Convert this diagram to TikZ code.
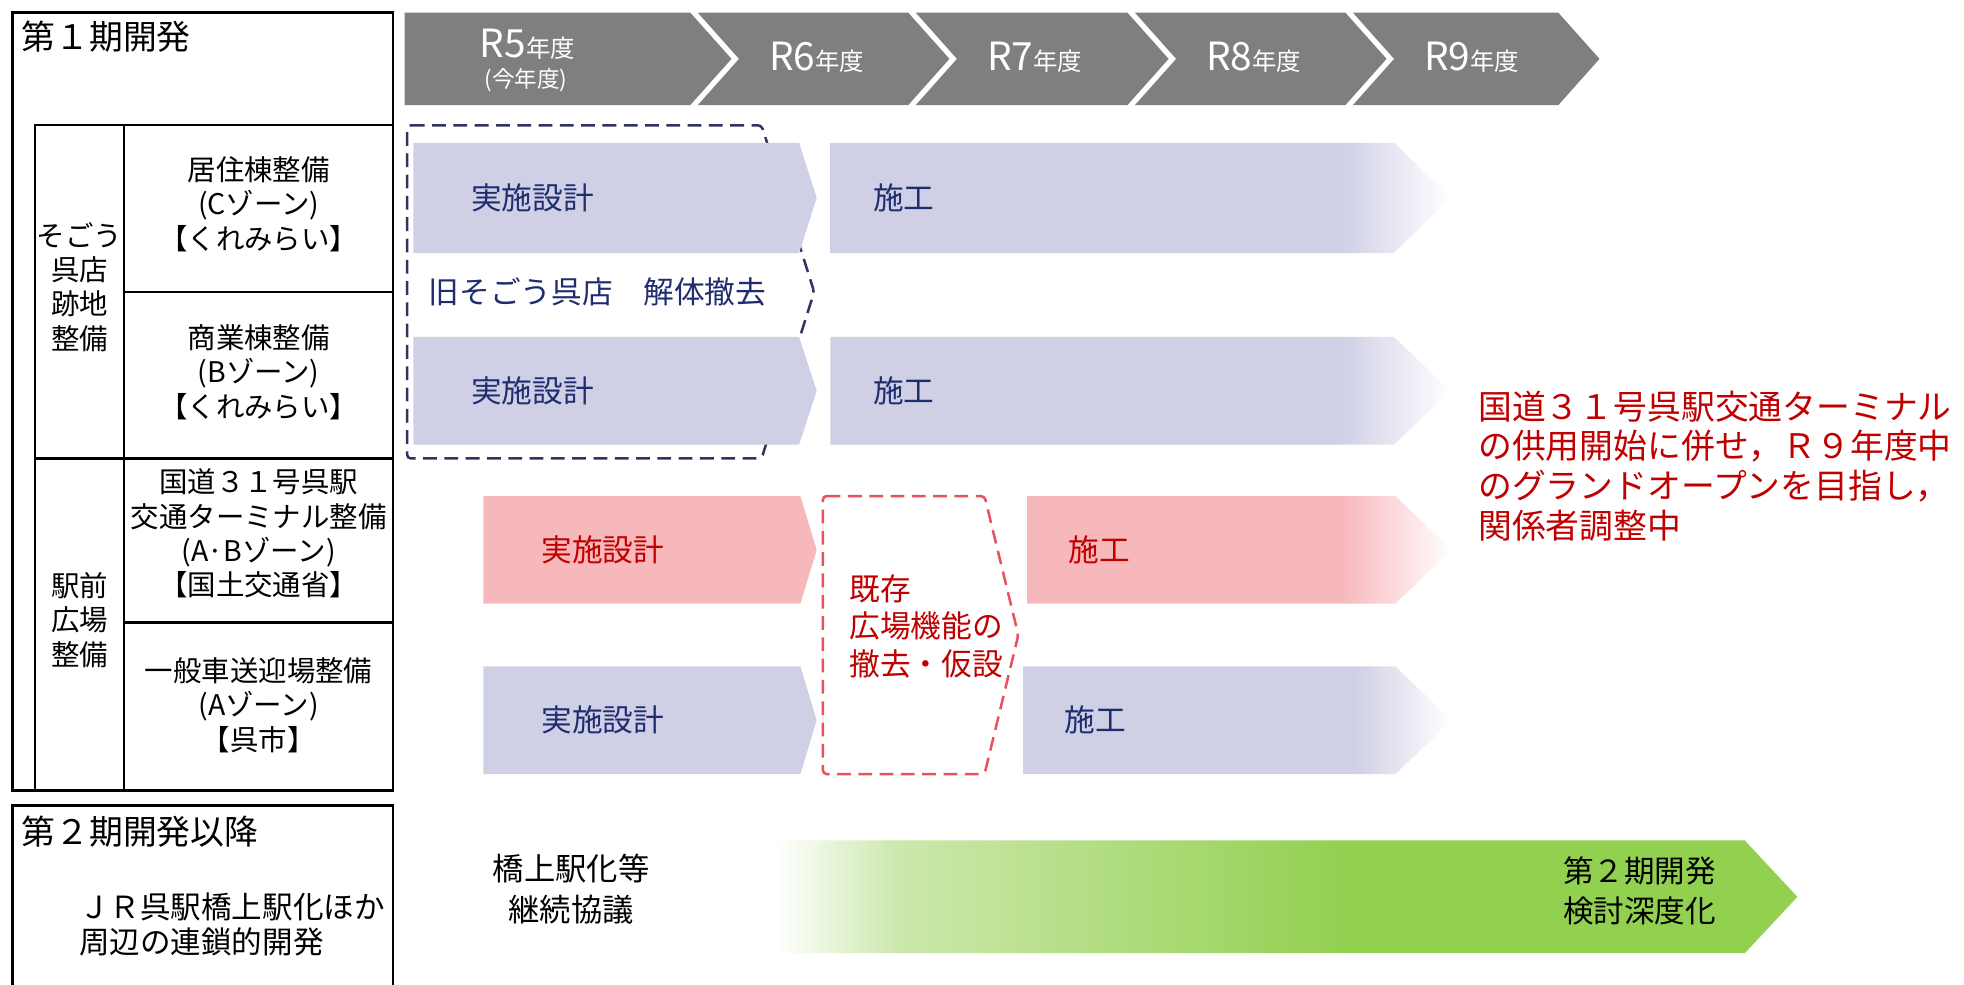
\documentclass[tikz,border=0pt]{standalone}
\usepackage{fontspec}
\setmainfont{Noto Sans CJK JP}
\definecolor{hdr}{RGB}{127,127,127}
\definecolor{lav}{RGB}{207,207,230}
\definecolor{pinkb}{RGB}{247,184,188}
\definecolor{navyt}{RGB}{31,45,110}
\definecolor{navydash}{RGB}{47,52,96}
\definecolor{redt}{RGB}{192,0,0}
\definecolor{reddash}{RGB}{232,80,92}
\definecolor{grn}{RGB}{146,208,80}
\definecolor{grnl}{RGB}{204,232,172}
\pgfdeclarehorizontalshading{greenfade}{100bp}{color(0bp)=(white); color(25bp)=(white); color(31bp)=(grnl); color(53bp)=(grn); color(100bp)=(grn)}
\pgfdeclarehorizontalshading{lavfadeA}{100bp}{color(0bp)=(lav); color(66bp)=(lav); color(75bp)=(white); color(100bp)=(white)}
\pgfdeclarehorizontalshading{lavfadeB}{100bp}{color(0bp)=(lav); color(63.5bp)=(lav); color(75bp)=(white); color(100bp)=(white)}
\pgfdeclarehorizontalshading{pinkfade}{100bp}{color(0bp)=(pinkb); color(62bp)=(pinkb); color(75bp)=(white); color(100bp)=(white)}
\newcommand{\tfs}[2]{\fontsize{#1}{#2}\selectfont}
\tikzset{
  boxline/.style={draw=black, line width=1.8pt},
  tbl/.style={font=\tfs{22.7}{27.5}, align=center, text=black, inner sep=0pt},
  hdrtxt/.style={font=\tfs{31}{33}, text=white, inner sep=0pt},
  bartxt/.style={font=\tfs{24.5}{30}, inner sep=0pt, anchor=west},
  navytxt/.style={bartxt, text=navyt},
  redtxt/.style={bartxt, text=redt},
  dashbox/.style={dashed, line width=2pt, rounded corners=3pt, dash pattern=on 11pt off 6pt},
}
\begin{document}
\begin{tikzpicture}[x=1pt,y=-1pt]
\useasboundingbox (0,0) rectangle (1568,785.6);
% ---------- left table ----------
\draw[boxline] (10,10) rectangle (314,631);
\draw[boxline] (28,100) rectangle (314,631);
\draw[boxline] (99,100) -- (99,631);
\draw[boxline] (99,233) -- (314,233);
\draw[boxline] (28,366) -- (314,366);
\draw[boxline] (99,497) -- (314,497);
\draw[boxline] (10,800) -- (10,643) -- (314,643) -- (314,800);
\node[anchor=west, font=\tfs{27}{32}, inner sep=0pt] (p1) at (17,29) {第１期開発};
\node[anchor=west, font=\tfs{27}{32}, inner sep=0pt] (p2) at (17,664) {第２期開発以降};
\node[anchor=west, font=\tfs{24.4}{28}, align=left, inner sep=0pt] (p2d) at (63,738) {ＪＲ呉駅橋上駅化ほか\\周辺の連鎖的開発};
\node[tbl] (g1) at (63.5,229) {そごう\\呉店\\跡地\\整備};
\node[tbl] (g2) at (63.5,495) {駅前\\広場\\整備};
\node[tbl] (r1) at (206.5,163) {居住棟整備\\(Cゾーン)\\【くれみらい】};
\node[tbl] (r2) at (206.5,297) {商業棟整備\\(Bゾーン)\\【くれみらい】};
\node[tbl] (r3) at (206.5,426) {国道３１号呉駅\\交通ターミナル整備\\(A·Bゾーン)\\【国土交通省】};
\node[tbl] (r4) at (206.5,563) {一般車送迎場整備\\(Aゾーン)\\【呉市】};
% ---------- header ----------
\fill[hdr] (323,10) -- (551,10) -- (584,47) -- (551,84) -- (323,84) -- cycle;
\fill[hdr] (557,10) -- (725,10) -- (758,47) -- (725,84) -- (557,84) -- (590,47) -- cycle;
\fill[hdr] (731,10) -- (900,10) -- (933,47) -- (900,84) -- (731,84) -- (764,47) -- cycle;
\fill[hdr] (906,10) -- (1074,10) -- (1107,47) -- (1074,84) -- (906,84) -- (939,47) -- cycle;
\fill[hdr] (1080,10) -- (1244,10) -- (1277,47) -- (1244,84) -- (1080,84) -- (1113,47) -- cycle;
\node[hdrtxt] (h5) at (421,35) {R5{\tfs{19.5}{22}年度}};
\node[hdrtxt, font=\tfs{18}{20}] (h5b) at (420,64) {(今年度)};
\node[hdrtxt] (h6) at (652,46) {R6{\tfs{19.5}{22}年度}};
\node[hdrtxt] (h7) at (826,46) {R7{\tfs{19.5}{22}年度}};
\node[hdrtxt] (h8) at (1001,46) {R8{\tfs{19.5}{22}年度}};
\node[hdrtxt] (h9) at (1175,46) {R9{\tfs{19.5}{22}年度}};
% ---------- dashed outlines ----------
\draw[dashbox, navydash] (325,100) -- (608,100) -- (650,233) -- (608,366) -- (325,366) -- cycle;
\draw[dashbox, reddash] (657,396) -- (786,396) -- (813,507) -- (786,618) -- (657,618) -- cycle;
% ---------- bars ----------
\fill[lav] (330,114) -- (638,114) -- (652,158) -- (638,202) -- (330,202) -- cycle;
\shade[shading=lavfadeA] (663,114) -- (1113,114) -- (1158,158) -- (1113,202) -- (663,202) -- cycle;
\fill[lav] (330,269) -- (638,269) -- (652,312) -- (638,355) -- (330,355) -- cycle;
\shade[shading=lavfadeA] (663,269) -- (1113,269) -- (1158,312) -- (1113,355) -- (663,355) -- cycle;
\fill[pinkb] (386,396) -- (639,396) -- (652,439) -- (639,482) -- (386,482) -- cycle;
\shade[shading=pinkfade] (820,396) -- (1114,396) -- (1159,439) -- (1114,482) -- (820,482) -- cycle;
\fill[lav] (386,532) -- (639,532) -- (652,575) -- (639,618) -- (386,618) -- cycle;
\shade[shading=lavfadeB] (817,532) -- (1114,532) -- (1159,575) -- (1114,618) -- (817,618) -- cycle;
\shade[shading=greenfade] (619,671) -- (1393,671) -- (1435,716) -- (1393,761) -- (619,761) -- cycle;
% ---------- bar texts ----------
\node[navytxt] (b1a) at (376,158) {実施設計};
\node[navytxt] (b1b) at (697,158) {施工};
\node[navytxt] (demo) at (342,233) {旧そごう呉店　解体撤去};
\node[navytxt] (b2a) at (376,312) {実施設計};
\node[navytxt] (b2b) at (697,312) {施工};
\node[redtxt] (b3a) at (432,439) {実施設計};
\node[redtxt] (b3b) at (853,439) {施工};
\node[navytxt] (b4a) at (432,575) {実施設計};
\node[navytxt] (b4b) at (850,575) {施工};
\node[redtxt, align=left] (tmp) at (678,500) {既存\\広場機能の\\撤去・仮設};
\node[bartxt, text=redt, font=\tfs{27}{31.7}, align=left] (note) at (1180,372) {国道３１号呉駅交通ターミナル\\の供用開始に併せ，Ｒ９年度中\\のグランドオープンを目指し，\\関係者調整中};
\node[font=\tfs{25}{33}, align=center, inner sep=0pt] (kyo) at (456,710) {橋上駅化等\\継続協議};
\node[font=\tfs{24.4}{32}, align=center, inner sep=0pt] (ph2) at (1309,711) {第２期開発\\検討深度化};
\end{tikzpicture}
\end{document}
